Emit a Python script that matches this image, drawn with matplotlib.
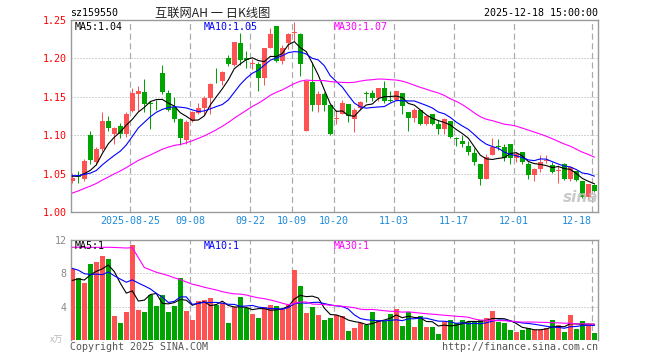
import numpy as np
import pandas as pd
import matplotlib
matplotlib.use("Agg")
import matplotlib.pyplot as plt
from matplotlib.transforms import blended_transform_factory

# ---------------- data ----------------
opens = [
    1.041, 1.047, 1.043, 1.100, 1.065, 1.082, 1.119, 1.101, 1.112, 1.101,
    1.131, 1.154, 1.156, 1.142, 1.141, 1.181, 1.155, 1.137, 1.121, 1.094,
    1.118, 1.129, 1.135, 1.148, 1.171, 1.170, 1.201, 1.192, 1.220, 1.201,
    1.193, 1.193, 1.174, 1.214, 1.242, 1.197, 1.220, 1.233, 1.232, 1.106,
    1.169, 1.139, 1.154, 1.139, 1.121, 1.128, 1.140, 1.121, 1.136, 1.155,
    1.155, 1.148, 1.161, 1.146, 1.146, 1.155, 1.130, 1.122, 1.133, 1.114,
    1.127, 1.114, 1.108, 1.119, 1.096, 1.093, 1.086, 1.077, 1.062, 1.043,
    1.074, 1.086, 1.085, 1.089, 1.070, 1.078, 1.063, 1.048, 1.056, 1.067,
    1.061, 1.054, 1.063, 1.043, 1.054, 1.040, 1.020, 1.035]
closes = [
    1.044, 1.046, 1.067, 1.068, 1.082, 1.118, 1.109, 1.110, 1.102, 1.127,
    1.155, 1.157, 1.140, 1.140, 1.140, 1.156, 1.133, 1.121, 1.096, 1.117,
    1.130, 1.135, 1.148, 1.167, 1.170, 1.182, 1.193, 1.221, 1.198, 1.198,
    1.194, 1.175, 1.214, 1.232, 1.197, 1.214, 1.232, 1.234, 1.193, 1.171,
    1.139, 1.154, 1.139, 1.101, 1.122, 1.142, 1.125, 1.133, 1.143, 1.154,
    1.148, 1.161, 1.144, 1.145, 1.157, 1.138, 1.123, 1.133, 1.114, 1.125,
    1.115, 1.108, 1.121, 1.098, 1.095, 1.089, 1.078, 1.065, 1.043, 1.071,
    1.085, 1.085, 1.070, 1.070, 1.076, 1.065, 1.048, 1.056, 1.065, 1.068,
    1.052, 1.055, 1.043, 1.059, 1.042, 1.020, 1.036, 1.027]
highs = [
    1.051, 1.053, 1.069, 1.106, 1.085, 1.130, 1.125, 1.111, 1.116, 1.130,
    1.161, 1.164, 1.173, 1.144, 1.146, 1.191, 1.159, 1.150, 1.122, 1.120,
    1.132, 1.142, 1.151, 1.168, 1.188, 1.184, 1.205, 1.222, 1.233, 1.209,
    1.199, 1.195, 1.214, 1.240, 1.242, 1.218, 1.233, 1.247, 1.233, 1.171,
    1.195, 1.157, 1.156, 1.139, 1.133, 1.146, 1.140, 1.136, 1.144, 1.157,
    1.159, 1.161, 1.171, 1.157, 1.158, 1.155, 1.130, 1.136, 1.133, 1.126,
    1.128, 1.120, 1.122, 1.119, 1.098, 1.100, 1.092, 1.083, 1.062, 1.075,
    1.096, 1.095, 1.089, 1.089, 1.078, 1.078, 1.065, 1.057, 1.074, 1.074,
    1.065, 1.061, 1.064, 1.060, 1.054, 1.040, 1.037, 1.037]
lows = [
    1.038, 1.038, 1.041, 1.063, 1.061, 1.079, 1.105, 1.089, 1.096, 1.098,
    1.130, 1.132, 1.130, 1.108, 1.133, 1.153, 1.131, 1.117, 1.087, 1.089,
    1.117, 1.127, 1.126, 1.127, 1.168, 1.166, 1.190, 1.190, 1.192, 1.188,
    1.186, 1.157, 1.165, 1.213, 1.195, 1.193, 1.212, 1.223, 1.177, 1.105,
    1.132, 1.130, 1.131, 1.100, 1.114, 1.127, 1.117, 1.104, 1.133, 1.143,
    1.145, 1.145, 1.142, 1.143, 1.145, 1.128, 1.106, 1.117, 1.113, 1.113,
    1.113, 1.101, 1.102, 1.097, 1.086, 1.084, 1.074, 1.061, 1.035, 1.043,
    1.074, 1.081, 1.067, 1.062, 1.065, 1.062, 1.043, 1.040, 1.052, 1.064,
    1.051, 1.038, 1.042, 1.040, 1.040, 1.018, 1.016, 1.026]
volumes = [
    8.55, 7.43, 6.79, 9.09, 9.33, 10.06, 9.74, 2.83, 2.10, 3.39,
    11.4, 3.64, 3.39, 5.45, 4.04, 5.45, 3.35, 4.12, 7.39, 3.54,
    2.42, 4.70, 4.85, 5.10, 4.20, 4.45, 2.10, 3.95, 5.20, 3.85,
    3.10, 2.70, 4.00, 4.20, 4.10, 3.70, 4.15, 8.40, 6.45, 3.30,
    4.00, 3.00, 2.40, 2.60, 3.03, 2.83, 1.09, 1.50, 2.02, 1.82,
    3.39, 2.42, 2.30, 3.15, 3.76, 1.74, 3.31, 1.58, 2.91, 1.58,
    1.58, 0.73, 2.14, 2.42, 2.02, 2.42, 2.14, 2.14, 2.38, 2.70,
    3.52, 2.14, 2.02, 1.21, 1.01, 1.21, 1.50, 1.21, 1.21, 1.50,
    2.42, 1.82, 1.01, 3.03, 1.33, 2.30, 1.90, 0.89]

# sessions before the visible window (only feed the moving averages)
pre_closes = [0.965, 0.970, 0.976, 0.980, 0.985, 0.990, 0.985, 0.990, 0.998,
              1.010, 1.020, 1.030, 1.035, 1.030, 1.042, 1.050, 1.055, 1.060,
              1.052, 1.047, 1.045, 1.050, 1.052, 1.048, 1.044, 1.046, 1.050,
              1.047, 1.046]
pre_volumes = [7.5, 7.0, 9.0, 9.5, 10.0, 9.5, 3.5, 3.0, 4.5, 10.0, 39.5, 39.0,
               14.0, 12.5, 11.5, 9.5, 12.0, 14.0, 12.0, 10.5, 9.5, 11.0, 10.0,
               9.0, 10.6, 6.5, 7.5, 6.0, 7.2]

tick_pos = [10, 20, 30, 37, 44, 54, 64, 74, 87]
tick_labels = ['2025-08-25', '09-08', '09-22', '10-09', '10-20',
               '11-03', '11-17', '12-01', '12-18']
price_ticks = [1.00, 1.05, 1.10, 1.15, 1.20, 1.25]
vol_ticks = [4, 8, 12]

# ---------------- style ----------------
UP = '#ff5353'
DOWN = '#00a400'
GRID = '#aaaaaa'
BORDER = '#999999'
MONO = 'DejaVu Sans Mono'
FS = 7.2
PX = 0.72  # one pixel in points

W, H = 660, 360
fig = plt.figure(figsize=(W / 100, H / 100), dpi=100)
L, R = 70.7, 597.7
ax = fig.add_axes([L / W, 1 - 212 / H, (R - L) / W, 192 / H])
axv = fig.add_axes([L / W, 1 - 340 / H, (R - L) / W, 100 / H])

n = len(closes)
x = np.arange(n)
o = np.array(opens); c = np.array(closes)
hi = np.array(highs); lo = np.array(lows)
v = np.array(volumes)
cols = [UP if cc >= oo else DOWN for oo, cc in zip(o, c)]

all_c = pd.Series(pre_closes + closes)
all_v = pd.Series(pre_volumes + volumes)
k = len(pre_closes)
ma = {p: all_c.rolling(p).mean().values[k:] for p in (5, 10, 30)}
vma = {p: all_v.rolling(p).mean().values[k:] for p in (5, 10, 30)}

xlim = (-0.27, n - 1 + 0.57)
grid_x = [p - 0.35 for p in tick_pos]

for a, ylim, hgrid in ((ax, (1.0, 1.25), [1.05, 1.10, 1.15, 1.20]),
                       (axv, (0, 12), [4, 8])):
    a.set_xlim(*xlim)
    a.set_ylim(*ylim)
    a.set_xticks([])
    for s in a.spines.values():
        s.set_color(BORDER)
        s.set_linewidth(1.0)
    for yy in hgrid:
        a.axhline(yy, color=GRID, lw=PX, ls=(0, (1, 2)), zorder=0)
    for gx in grid_x:
        a.axvline(gx, color=GRID, lw=PX * 1.2, ls=(0, (5, 3)), zorder=0)

axv.spines['bottom'].set_visible(False)

# candles
ax.vlines(x, lo, hi, colors=cols, lw=PX, zorder=2)
body_h = np.maximum(np.abs(c - o), 0.0011)
ax.bar(x, body_h, bottom=np.minimum(o, c), width=0.82, color=cols,
       linewidth=0, zorder=3)
ax.plot(x, ma[5], color='black', lw=0.8, zorder=4)
ax.plot(x, ma[10], color='#0000ff', lw=0.8, zorder=4)
ax.plot(x, ma[30], color='#ff00ff', lw=0.8, zorder=4)

# volume
axv.bar(x, v, width=0.82, color=cols, linewidth=0, zorder=3)
axv.plot(x, vma[5], color='black', lw=0.8, zorder=4)
axv.plot(x, vma[10], color='#0000ff', lw=0.8, zorder=4)
axv.plot(x, vma[30], color='#ff00ff', lw=0.8, zorder=4)

# y tick labels
ax.set_yticks(price_ticks)
ax.set_yticklabels(['%.2f' % t for t in price_ticks], family=MONO)
ax.tick_params(axis='y', length=0, pad=3, labelcolor='#ff0000', labelsize=FS)
axv.set_yticks(vol_ticks)
axv.set_yticklabels([str(t) for t in vol_ticks], family=MONO)
axv.tick_params(axis='y', length=0, pad=3, labelcolor='#888888', labelsize=FS)

# x tick labels
tr = blended_transform_factory(ax.transData, fig.transFigure)
for i, (gx, lab) in enumerate(zip(grid_x, tick_labels)):
    ha = 'right' if i == len(tick_labels) - 1 else 'center'
    ax.text(gx, 1 - 221 / H, lab, transform=tr, ha=ha, va='center',
            color='#1e8ad8', fontsize=FS, family=MONO)


def ftext(px, py, s, **kw):
    kw.setdefault('family', MONO)
    kw.setdefault('fontsize', FS)
    kw.setdefault('va', 'center')
    fig.text(px / W, 1 - py / H, s, **kw)


ftext(70, 13, 'sz159550', color='black')
ftext(213, 13, '互联网AH 一 日K线图', ha='center', color='#222222',
      family=['Noto Sans CJK SC', 'DejaVu Sans'], fontsize=8.8)
ftext(598, 13, '2025-12-18 15:00:00', ha='right', color='black')

ftext(75, 26.5, 'MA5:%.2f' % ma[5][-1], color='black')
ftext(204, 26.5, 'MA10:%.2f' % ma[10][-1], color='#0000ff')
ftext(334, 26.5, 'MA30:%.2f' % ma[30][-1], color='#ff00ff')
ftext(75, 246, 'MA5:1', color='black')
ftext(204, 246, 'MA10:1', color='#0000ff')
ftext(334, 246, 'MA30:1', color='#ff00ff')

ftext(57, 340, 'x万', ha='center', color='#bbbbbb',
      family=['Noto Sans CJK SC', 'DejaVu Sans'], fontsize=6.5)
ftext(70, 347, 'Copyright 2025 SINA.COM', color='#555555')
ftext(598, 347, 'http://finance.sina.com.cn', ha='right', color='#555555')

# faint sina watermark
ftext(581, 197, 'sina', ha='center', color='#c4c4c4', family='DejaVu Sans',
      fontsize=11, fontweight='bold', style='italic', alpha=0.9)

fig.savefig('out.png', dpi=100)
